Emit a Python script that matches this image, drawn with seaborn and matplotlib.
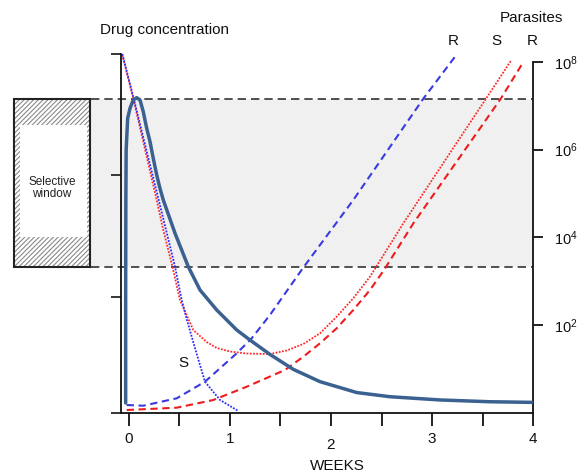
import matplotlib
matplotlib.use("Agg")
import matplotlib.pyplot as plt
import numpy as np
import pandas as pd
import seaborn as sns
from matplotlib.patches import Rectangle
from matplotlib.ticker import NullLocator

# ---------------- data ----------------
week_ticks = [0, 1, 2, 3, 4]
week_minor_ticks = [0.5, 1.5, 2.5, 3.5]
parasite_tick_exps = [2, 4, 6, 8]
parasite_tick_labels = ["$10^{2}$", "$10^{4}$", "$10^{6}$", "$10^{8}$"]
drug_ticks = [0, 0.97, 1.99, 3.0]

window_low_exp = 3.33
window_high_exp = 7.16

drug_weeks = [-0.030, -0.030, -0.028, -0.025, -0.010, 0.013, 0.045, 0.079, 0.112,
              0.144, 0.178, 0.211, 0.243, 0.277, 0.309, 0.342, 0.458, 0.589,
              0.705, 0.870, 1.068, 1.199, 1.396, 1.627, 1.891, 2.254, 2.583,
              3.078, 3.572, 3.984]
drug_conc = [0.084, 0.944, 1.780, 2.198, 2.463, 2.546, 2.616, 2.635, 2.616,
             2.518, 2.379, 2.267, 2.128, 1.989, 1.878, 1.780, 1.502, 1.223,
             1.028, 0.861, 0.694, 0.610, 0.490, 0.365, 0.262, 0.171, 0.136,
             0.109, 0.094, 0.089]

s_blue_weeks = [-0.063, 0.045, 0.309, 0.458, 0.524, 0.576, 0.655, 0.754, 0.903, 1.084]
s_blue_log10 = [8.18, 7.205, 4.738, 3.333, 2.574, 2.118, 1.481, 0.713, 0.296, 0.046]

s_red_weeks = [-0.063, 0.045, 0.277, 0.342, 0.433, 0.507, 0.639, 0.771, 0.870,
               1.002, 1.167, 1.396, 1.562, 1.726, 1.891, 2.056, 2.220, 2.385,
               2.715, 3.532, 3.779]
s_red_log10 = [8.155, 7.175, 4.852, 4.169, 3.333, 2.574, 1.891, 1.617, 1.481,
               1.401, 1.355, 1.344, 1.424, 1.572, 1.815, 2.194, 2.613, 3.105,
               4.321, 7.160, 8.025]

r_red_weeks = [-0.020, 0.475, 0.836, 1.167, 1.545, 1.726, 1.891, 2.056, 2.220,
               2.385, 2.524, 2.814, 3.678, 3.901]
r_red_log10 = [0.068, 0.121, 0.296, 0.599, 0.980, 1.282, 1.588, 1.929, 2.346,
               2.802, 3.257, 4.321, 7.160, 7.995]

r_blue_weeks = [-0.020, 0.144, 0.475, 0.754, 1.068, 1.216, 1.396, 1.723, 2.220,
                2.912, 3.243]
r_blue_log10 = [0.182, 0.166, 0.335, 0.713, 1.360, 1.702, 2.232, 3.303, 4.852,
                7.160, 8.17]

# ---------------- style ----------------
sns.set_theme(style="ticks")
plt.rcParams["font.family"] = ["Liberation Sans", "DejaVu Sans"]
plt.rcParams["mathtext.fontset"] = "custom"
plt.rcParams["mathtext.rm"] = "Liberation Sans"
plt.rcParams["mathtext.default"] = "regular"
plt.rcParams["hatch.linewidth"] = 0.8
plt.rcParams["hatch.color"] = "#8a8a8a"

W, H = 577, 474
fig = plt.figure(figsize=(W / 100, H / 100), dpi=100)
ax = fig.add_axes([121 / W, (H - 413) / H, 412.3 / W, 359 / H])
ax2 = ax.twinx()

ax.set_yscale("log")
ax.set_xlim(-0.076, 4.0)
ax.set_ylim(1, 10 ** 8.18)

# selective window shading and its bounds
x_shade_left = -0.373
ax.add_patch(Rectangle((x_shade_left, 10 ** window_low_exp), 4.0 - x_shade_left,
                       10 ** window_high_exp - 10 ** window_low_exp,
                       facecolor="#f0f0f0", edgecolor="none", zorder=0, clip_on=False))
for e in (window_low_exp, window_high_exp):
    ax.plot([x_shade_left, 4.0], [10 ** e, 10 ** e], color="#333333", lw=1.2,
            linestyle=(0, (5, 3)), clip_on=False, zorder=1)

# selective window box (outside the axes, left)
bx0, bx1 = -1.134, -0.383
ax.add_patch(Rectangle((bx0, 10 ** window_low_exp), bx1 - bx0,
                       10 ** window_high_exp - 10 ** window_low_exp,
                       facecolor="white", edgecolor="#8a8a8a", hatch="///////",
                       lw=0, clip_on=False, zorder=1))
ax.add_patch(Rectangle((-1.075, 10 ** 4.01), -0.411 + 1.075, 10 ** 6.56 - 10 ** 4.01,
                       facecolor="white", edgecolor="none", clip_on=False, zorder=1.5))
ax.add_patch(Rectangle((bx0, 10 ** window_low_exp), bx1 - bx0,
                       10 ** window_high_exp - 10 ** window_low_exp,
                       facecolor="none", edgecolor="#222222", lw=1.5,
                       clip_on=False, zorder=2))
fig.text(52 / W, 1 - 188 / H, "Selective\nwindow", ha="center", va="center",
         fontsize=8.5, linespacing=1.05, color="#222222")

# parasite curves
def curve(xs, ys, **kw):
    df = pd.DataFrame({"weeks": xs, "val": ys})
    sns.lineplot(data=df, x="weeks", y="val", ax=ax, estimator=None, sort=False,
                 legend=False, **kw)

curve(s_red_weeks, 10 ** np.array(s_red_log10), color="#ff2a2a", lw=1.3,
      linestyle=(0, (1, 0.8)))
curve(s_blue_weeks, 10 ** np.array(s_blue_log10), color="#2a2aff", lw=1.3,
      linestyle=(0, (1, 0.8)))
curve(r_blue_weeks, 10 ** np.array(r_blue_log10), color="#3a3ae0", lw=1.5,
      linestyle=(0, (3.5, 2.2)))
curve(r_red_weeks, 10 ** np.array(r_red_log10), color="#ee1c1c", lw=1.5,
      linestyle=(0, (3.5, 2.2)))

# axes styling (parasites on right)
ax.yaxis.tick_right()
ax.set_yticks([10 ** e for e in parasite_tick_exps], parasite_tick_labels)
ax.yaxis.set_minor_locator(NullLocator())
ax.set_xticks(week_ticks)
ax.set_xticks(week_minor_ticks, minor=True)
ax.set_xlabel("WEEKS", fontsize=11, color="#111111")
ax.xaxis.set_label_coords(0.524, -0.128)
ax.set_ylabel("")
for s in ("left", "top"):
    ax.spines[s].set_visible(False)
ax.spines["right"].set_bounds(1, 1e8)
for s in ("right", "bottom"):
    ax.spines[s].set_linewidth(1.3)
    ax.spines[s].set_color("#111111")
ax.tick_params(axis="y", which="major", direction="out", length=7, width=1.3,
               pad=8, labelsize=10.5, colors="#111111", right=True, left=False,
               labelright=True, labelleft=False)
ax.tick_params(axis="x", which="both", direction="out", length=9, width=1.3,
               pad=5, labelsize=11, colors="#111111")
ax.xaxis.get_major_ticks()[2].set_pad(9)

# drug concentration on left axis
ax2.set_ylim(0, 3)
df_drug = pd.DataFrame({"weeks": drug_weeks, "conc": drug_conc})
sns.lineplot(data=df_drug, x="weeks", y="conc", ax=ax2, estimator=None, sort=False,
             legend=False, color="#3a6190", lw=2.5)
ax2.yaxis.tick_left()
ax2.set_yticks(drug_ticks, [])
ax2.set_ylabel("")
for s in ("right", "top", "bottom"):
    ax2.spines[s].set_visible(False)
ax2.spines["left"].set_linewidth(1.3)
ax2.spines["left"].set_color("#111111")
ax2.tick_params(axis="y", direction="out", length=7, width=1.3, left=True,
                right=False, labelleft=False, labelright=False)
ax2.set_xlim(-0.076, 4.0)

# text labels
ax.text(0.54, 10 ** 1.13, "S", ha="center", va="center", fontsize=11, color="#111111")
fig.text(165 / W, 1 - 30 / H, "Drug concentration", ha="center", va="center",
         fontsize=11, color="#111111")
fig.text(531 / W, 1 - 18 / H, "Parasites", ha="center", va="center",
         fontsize=11, color="#111111")
for xp, lab in ((453, "R"), (496, "S"), (532, "R")):
    fig.text(xp / W, 1 - 41 / H, lab, ha="center", va="center", fontsize=11,
             color="#111111")

fig.savefig("out.png", dpi=100)
